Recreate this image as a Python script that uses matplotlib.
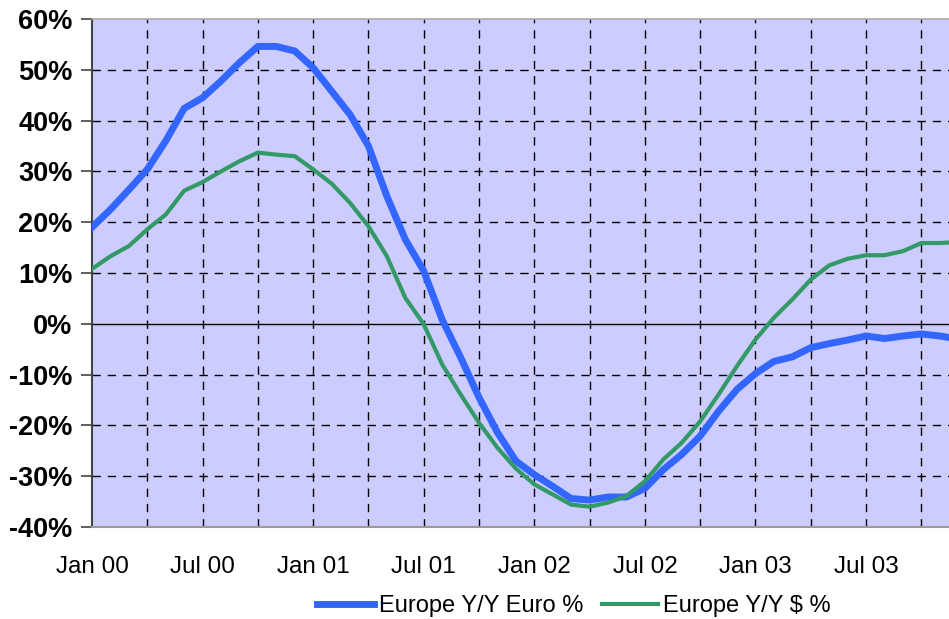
import matplotlib.pyplot as plt
import numpy as np
from matplotlib.ticker import FixedLocator, FuncFormatter

plt.rcParams['font.family'] = ['Liberation Sans', 'DejaVu Sans']

# Monthly Y/Y growth, Jan 2000 onwards (%)
euro_yy = [19.0, 22.5, 26.4, 30.4, 36.0, 42.4, 44.5, 47.8, 51.4, 54.6, 54.6, 53.7,
           50.4, 45.8, 41.2, 35.0, 25.1, 16.6, 10.4, 0.8, -6.6, -14.5, -21.4, -27.0,
           -29.7, -32.0, -34.4, -34.7, -34.1, -34.1, -32.4, -28.7, -25.7, -22.1, -17.2, -12.9,
           -9.8, -7.4, -6.5, -4.7, -3.9, -3.2, -2.4, -2.9, -2.4, -2.0, -2.4, -3.0]
usd_yy = [10.8, 13.3, 15.3, 18.6, 21.5, 26.2, 27.9, 30.0, 32.0, 33.7, 33.3, 33.0,
          30.4, 27.6, 23.8, 19.2, 13.3, 5.1, -0.1, -8.0, -13.9, -19.5, -24.4, -28.5,
          -31.6, -33.6, -35.6, -36.0, -35.2, -33.9, -31.0, -26.7, -23.4, -19.2, -13.9, -8.3,
          -3.1, 1.2, 4.8, 8.7, 11.5, 12.8, 13.5, 13.5, 14.3, 15.9, 15.9, 16.1]
tick_labels = ['Jan 00', 'Jul 00', 'Jan 01', 'Jul 01', 'Jan 02', 'Jul 02', 'Jan 03', 'Jul 03']

months = np.arange(len(euro_yy))

fig = plt.figure(figsize=(9.49, 6.19), dpi=100)
ax = fig.add_axes([92 / 949, 92 / 619, 1 - 92 / 949, (527 - 19) / 619])
ax.set_facecolor('#ccccff')

ax.set_xlim(0, 46.5)
ax.set_ylim(-40, 60)

# grid
for q in range(3, 47, 3):
    ax.axvline(q, color='black', lw=1, ls=(0, (6, 5)), zorder=1)
for v in range(-30, 60, 10):
    if v == 0:
        ax.axhline(0, color='black', lw=1, zorder=1)
    else:
        ax.axhline(v, color='black', lw=1, ls=(0, (6, 5)), zorder=1)

ax.plot(months, euro_yy, color='#3366ff', lw=5, label='Europe Y/Y Euro %', zorder=3)
ax.plot(months, usd_yy, color='#339966', lw=3, label='Europe Y/Y $ %', zorder=3)

ax.yaxis.set_major_locator(FixedLocator(range(-40, 61, 10)))
ax.yaxis.set_major_formatter(FuncFormatter(lambda v, p: f'{v:.0f}%'))
ax.tick_params(axis='y', length=8, width=1.2, color='#444444', pad=6, labelsize=19.5)
for t in ax.get_yticklabels():
    t.set_fontweight('bold')

ax.set_xticks(np.arange(0, 48, 6)[:len(tick_labels)])
ax.set_xticklabels(tick_labels, fontsize=17.5)
ax.tick_params(axis='x', length=0, pad=21)

ax.spines['right'].set_visible(False)
ax.spines['left'].set_color('#444444')
ax.spines['left'].set_linewidth(1.5)
ax.spines['bottom'].set_color('#999999')
ax.spines['bottom'].set_linewidth(1.5)
ax.spines['top'].set_color('#aaaaaa')
ax.spines['top'].set_linewidth(1.2)

fig.legend(loc='center', bbox_to_anchor=(574 / 949, 13 / 619), ncol=2, frameon=False,
           fontsize=17, handlelength=2.4, handletextpad=0.2, columnspacing=0.8)

fig.savefig('out.png', dpi=100)
